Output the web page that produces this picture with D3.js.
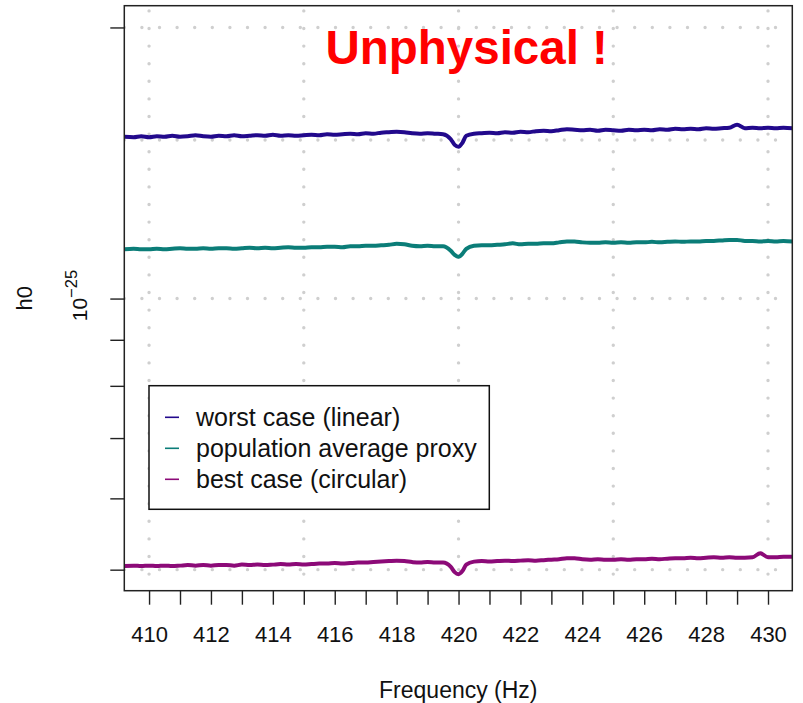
<!DOCTYPE html>
<html>
<head>
<meta charset="utf-8">
<script src="https://cdn.jsdelivr.net/npm/d3@7"></script>
<style>
  html, body { margin: 0; padding: 0; background: #fff; }
  svg { display: block; font-family: "Liberation Sans", Arial, Helvetica, sans-serif; }
</style>
</head>
<body>
<svg id="chart" width="803" height="703"></svg>
<script>
// ---- data (h0 values in units of 1e-25) ----
const UNIT = 1e-25;
const freq = [409.2, 409.5, 409.75, 410, 410.25, 410.5, 410.75, 411, 411.25, 411.5, 411.75, 412, 412.25, 412.5, 412.75, 413, 413.25, 413.5, 413.75, 414, 414.25, 414.5, 414.75, 415, 415.25, 415.5, 415.75, 416, 416.25, 416.5, 416.75, 417, 417.25, 417.5, 417.75, 418, 418.25, 418.5, 418.75, 419, 419.25, 419.5, 419.75, 419.875, 420, 420.125, 420.25, 420.5, 420.75, 421, 421.25, 421.5, 421.75, 422, 422.25, 422.5, 422.75, 423, 423.25, 423.5, 423.75, 424, 424.25, 424.5, 424.75, 425, 425.25, 425.5, 425.75, 426, 426.25, 426.5, 426.75, 427, 427.25, 427.5, 427.75, 428, 428.25, 428.5, 428.75, 429, 429.25, 429.5, 429.75, 430, 430.25, 430.5, 430.8];

const worstCase = [1.5126, 1.5107, 1.5146, 1.5107, 1.5146, 1.5126, 1.5165, 1.5126, 1.5146, 1.5185, 1.5146, 1.5126, 1.5165, 1.5146, 1.5185, 1.5146, 1.5165, 1.5185, 1.5165, 1.5204, 1.5165, 1.5185, 1.5165, 1.5185, 1.5204, 1.5185, 1.5224, 1.5204, 1.5224, 1.5243, 1.5224, 1.5263, 1.5243, 1.5282, 1.5302, 1.5321, 1.5302, 1.5263, 1.5243, 1.5263, 1.5243, 1.5224, 1.5030, 1.4814, 1.4744, 1.4892, 1.5165, 1.5243, 1.5263, 1.5282, 1.5263, 1.5302, 1.5282, 1.5321, 1.5302, 1.5341, 1.5360, 1.5341, 1.5380, 1.5419, 1.5400, 1.5380, 1.5400, 1.5360, 1.5400, 1.5380, 1.5360, 1.5400, 1.5380, 1.5400, 1.5380, 1.5419, 1.5400, 1.5439, 1.5419, 1.5439, 1.5419, 1.5459, 1.5439, 1.5459, 1.5479, 1.5598, 1.5459, 1.5479, 1.5459, 1.5479, 1.5459, 1.5479, 1.5459];

const popAverage = [1.1342, 1.1357, 1.1342, 1.1342, 1.1357, 1.1342, 1.1357, 1.1371, 1.1357, 1.1357, 1.1371, 1.1357, 1.1371, 1.1371, 1.1357, 1.1371, 1.1386, 1.1371, 1.1386, 1.1371, 1.1386, 1.1400, 1.1386, 1.1386, 1.1400, 1.1400, 1.1415, 1.1415, 1.1400, 1.1429, 1.1429, 1.1444, 1.1444, 1.1458, 1.1473, 1.1502, 1.1487, 1.1444, 1.1429, 1.1444, 1.1429, 1.1429, 1.1300, 1.1182, 1.1125, 1.1212, 1.1357, 1.1444, 1.1458, 1.1458, 1.1473, 1.1487, 1.1516, 1.1487, 1.1502, 1.1502, 1.1516, 1.1516, 1.1545, 1.1574, 1.1574, 1.1545, 1.1531, 1.1531, 1.1545, 1.1531, 1.1545, 1.1531, 1.1545, 1.1545, 1.1560, 1.1545, 1.1560, 1.1574, 1.1560, 1.1574, 1.1574, 1.1589, 1.1589, 1.1603, 1.1618, 1.1618, 1.1589, 1.1589, 1.1574, 1.1589, 1.1574, 1.1589, 1.1574];

const bestCase = [0.5046, 0.5052, 0.5046, 0.5052, 0.5046, 0.5052, 0.5046, 0.5052, 0.5059, 0.5052, 0.5059, 0.5052, 0.5059, 0.5059, 0.5052, 0.5065, 0.5059, 0.5065, 0.5059, 0.5065, 0.5072, 0.5065, 0.5072, 0.5065, 0.5072, 0.5078, 0.5078, 0.5085, 0.5078, 0.5085, 0.5091, 0.5091, 0.5098, 0.5104, 0.5111, 0.5117, 0.5111, 0.5098, 0.5091, 0.5098, 0.5091, 0.5091, 0.5035, 0.4969, 0.4943, 0.4982, 0.5065, 0.5104, 0.5111, 0.5104, 0.5111, 0.5117, 0.5111, 0.5117, 0.5123, 0.5117, 0.5123, 0.5130, 0.5136, 0.5149, 0.5149, 0.5136, 0.5130, 0.5136, 0.5130, 0.5130, 0.5136, 0.5130, 0.5136, 0.5136, 0.5143, 0.5136, 0.5143, 0.5149, 0.5149, 0.5156, 0.5149, 0.5156, 0.5162, 0.5156, 0.5162, 0.5156, 0.5156, 0.5162, 0.5214, 0.5162, 0.5162, 0.5169, 0.5169];

const seriesNames = ["worst case (linear)", "population average proxy", "best case (circular)"];
const seriesColors = ["#22098c", "#0b7d78", "#8c0a78"];

const xTicks = [410, 411, 412, 413, 414, 415, 416, 417, 418, 419, 420, 421, 422, 423, 424, 425, 426, 427, 428, 429, 430];
const xTickLabels = [410, 412, 414, 416, 418, 420, 422, 424, 426, 428, 430];
const xGrid = [410, 415, 420, 425, 430];
const yTicks = [2e-25, 1e-25, 9e-26, 8e-26, 7e-26, 6e-26, 5e-26];
const yGrid = [5e-26, 1e-25, 1.5e-25, 2e-25];

const titleText = "Unphysical !";
const xLabel = "Frequency (Hz)";
const yLabel = "h0";

// ---- layout ----
const svg = d3.select("#chart");
const plot = { left: 124.3, right: 792.3, top: 5.7, bottom: 590.7 };

const x = d3.scaleLinear().domain([409.2, 430.785]).range([plot.left, plot.right]);
const y = d3.scaleLog().domain([0.47383e-25, 2.1144e-25]).range([plot.bottom, plot.top]);

// clip
svg.append("defs").append("clipPath").attr("id", "clip")
  .append("rect").attr("x", plot.left).attr("y", plot.top)
  .attr("width", plot.right - plot.left).attr("height", plot.bottom - plot.top);

// grid (dotted)
const gridG = svg.append("g").attr("clip-path", "url(#clip)");
gridG.selectAll("line.vg").data(xGrid).enter().append("line")
  .attr("x1", d => x(d)).attr("x2", d => x(d))
  .attr("y1", plot.bottom + 1).attr("y2", plot.top)
  .attr("stroke", "#cfcfcf").attr("stroke-width", 3.4)
  .attr("stroke-linecap", "round").attr("stroke-dasharray", "0 17.6");
gridG.selectAll("line.hg").data(yGrid).enter().append("line")
  .attr("x1", plot.left).attr("x2", plot.right)
  .attr("y1", d => y(d)).attr("y2", d => y(d))
  .attr("stroke", "#cfcfcf").attr("stroke-width", 3.4)
  .attr("stroke-linecap", "round").attr("stroke-dasharray", "0 17.6");

// series lines
const allSeries = [worstCase, popAverage, bestCase];
const line = d3.line()
  .x((d, i) => x(freq[i]))
  .y(d => y(d * UNIT))
  .curve(d3.curveMonotoneX);
const linesG = svg.append("g").attr("clip-path", "url(#clip)");
allSeries.forEach((s, k) => {
  linesG.append("path").datum(s)
    .attr("d", line)
    .attr("fill", "none")
    .attr("stroke", seriesColors[k])
    .attr("stroke-width", 4)
    .attr("stroke-linejoin", "round")
    .attr("stroke-linecap", "round");
});

// x axis
const xAxis = d3.axisBottom(x).tickValues(xTicks).tickSize(14)
  .tickFormat(d => xTickLabels.includes(d) ? String(d) : "");
const gx = svg.append("g").attr("transform", `translate(0,${plot.bottom})`).call(xAxis);
gx.select(".domain").remove();
gx.selectAll(".tick line").attr("stroke", "#222").attr("stroke-width", 1.4);
gx.selectAll(".tick text").attr("font-size", 22).attr("fill", "#111")
  .attr("font-family", "Liberation Sans, Arial, sans-serif")
  .attr("y", 0).attr("dy", 0)
  .attr("transform", "translate(0,51.3)");

// y axis
const yAxis = d3.axisLeft(y).tickValues(yTicks).tickSize(14).tickFormat("");
const gy = svg.append("g").attr("transform", `translate(${plot.left},0)`).call(yAxis);
gy.select(".domain").remove();
gy.selectAll(".tick line").attr("stroke", "#222").attr("stroke-width", 1.4);

// y tick label 10^-25 (rotated)
const yl = svg.append("text")
  .attr("transform", `translate(87,${y(1e-25) - 3}) rotate(-90)`)
  .attr("text-anchor", "middle")
  .attr("fill", "#111");
yl.append("tspan").attr("font-size", 21).text("10");
yl.append("tspan").attr("font-size", 16.5).attr("dy", -10).text("\u221225");

// box
svg.append("rect")
  .attr("x", plot.left).attr("y", plot.top)
  .attr("width", plot.right - plot.left).attr("height", plot.bottom - plot.top)
  .attr("fill", "none").attr("stroke", "#222").attr("stroke-width", 1.5);

// axis labels
svg.append("text")
  .attr("x", (plot.left + plot.right) / 2).attr("y", 698)
  .attr("text-anchor", "middle").attr("font-size", 23).attr("fill", "#111")
  .text(xLabel);
svg.append("text")
  .attr("transform", `translate(32,${(plot.top + plot.bottom) / 2}) rotate(-90)`)
  .attr("text-anchor", "middle").attr("font-size", 22).attr("fill", "#111")
  .text(yLabel);

// title annotation
svg.append("text")
  .attr("x", 466.7).attr("y", 64)
  .attr("text-anchor", "middle").attr("font-size", 47.5).attr("font-weight", "bold")
  .attr("fill", "#ff0000")
  .text(titleText);

// legend
const lg = svg.append("g");
lg.append("rect")
  .attr("x", 149).attr("y", 385.7).attr("width", 340.3).attr("height", 123.6)
  .attr("fill", "#fff").attr("stroke", "#111").attr("stroke-width", 1.5);
const rowY = [417.3, 448.3, 479.3];
seriesNames.forEach((name, k) => {
  lg.append("line")
    .attr("x1", 165).attr("x2", 179)
    .attr("y1", rowY[k]).attr("y2", rowY[k])
    .attr("stroke", seriesColors[k]).attr("stroke-width", 1.6);
  lg.append("text")
    .attr("x", 196).attr("y", rowY[k] + 8.7)
    .attr("font-size", 25).attr("fill", "#111")
    .text(name);
});
</script>
</body>
</html>
